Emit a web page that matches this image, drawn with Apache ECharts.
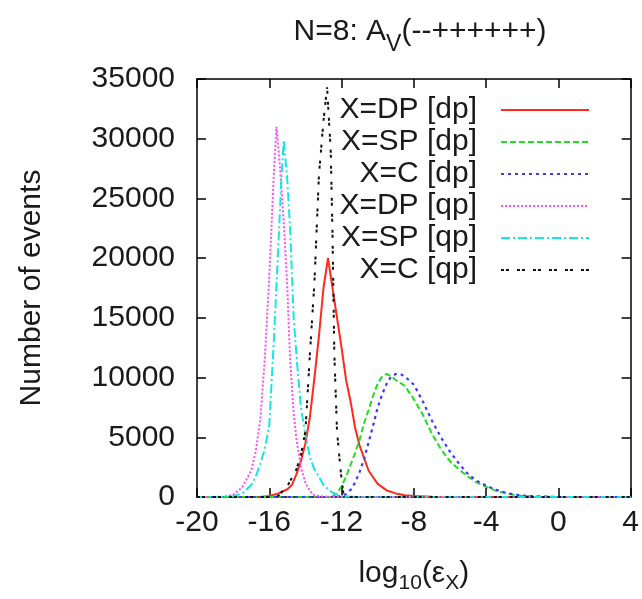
<!DOCTYPE html>
<html>
<head>
<meta charset="utf-8">
<script src="https://cdn.jsdelivr.net/npm/echarts@6/dist/echarts.min.js"></script>
<style>
html,body{margin:0;padding:0;background:#fff;}
#chart{width:642px;height:599px;}
</style>
</head>
<body>
<div id="chart"></div>
<script>
// ---- data ----
const xTicks = [-20, -16, -12, -8, -4, 0, 4];
const yTicks = [0, 5000, 10000, 15000, 20000, 25000, 30000, 35000];

const seriesNames = ['X=DP [dp]', 'X=SP [dp]', 'X=C [dp]', 'X=DP [qp]', 'X=SP [qp]', 'X=C [qp]'];

const dpDP_x = [-20, -16.5, -16, -15.5, -15, -14.75, -14.5, -14.25, -14, -13.75, -13.5, -13.25, -13, -12.75, -12.5, -12.25, -12, -11.75, -11.5, -11.25, -11, -10.5, -10, -9.5, -9, -8.5, -8, -7, -6, 4];
const dpDP_y = [0, 0, 80, 300, 650, 1000, 1900, 3000, 4500, 6700, 10000, 13500, 17500, 20000, 17500, 15000, 12500, 9800, 8000, 5800, 4300, 2200, 1100, 550, 300, 150, 80, 20, 0, 0];

const dpSP_x = [-20, -13, -12.5, -12.25, -12, -11.75, -11.5, -11.25, -11, -10.75, -10.5, -10.25, -10, -9.75, -9.5, -9.25, -9, -8.5, -8, -7.5, -7, -6.5, -6, -5.5, -5, -4.5, -4, -3.5, -3, -2.5, -2, -1, 0, 4];
const dpSP_y = [0, 0, 50, 300, 900, 1700, 2700, 3700, 4800, 6200, 7300, 8500, 9500, 10100, 10300, 10100, 9800, 9300, 8200, 6900, 5300, 4000, 3000, 2300, 1700, 1200, 850, 550, 350, 180, 90, 25, 0, 0];

const dpC_x = [-20, -12.5, -12, -11.75, -11.5, -11.25, -11, -10.75, -10.5, -10.25, -10, -9.75, -9.5, -9.25, -9, -8.75, -8.5, -8, -7.5, -7, -6.5, -6, -5.5, -5, -4.5, -4, -3.5, -3, -2.5, -2, -1, 0, 4];
const dpC_y = [0, 0, 80, 250, 600, 1200, 2100, 3200, 4600, 6000, 7500, 8600, 9500, 10100, 10300, 10300, 10100, 9400, 8000, 6400, 5000, 3800, 2800, 1900, 1350, 950, 620, 400, 220, 120, 40, 0, 0];

const qpDP_x = [-20, -19, -18.5, -18, -17.5, -17, -16.75, -16.5, -16.25, -16, -15.75, -15.6, -15.4, -15.2, -15, -14.85, -14.65, -14.5, -14.25, -14, -13.75, -13.5, -13, -12.5, 4];
const qpDP_y = [0, 0, 30, 200, 800, 2200, 3800, 6500, 11500, 18500, 27000, 31000, 27500, 23000, 17500, 11600, 7000, 4900, 2500, 1200, 500, 150, 20, 0, 0];

const qpSP_x = [-20, -18.5, -18, -17.5, -17, -16.75, -16.5, -16.25, -16, -15.75, -15.5, -15.35, -15.2, -15, -14.85, -14.65, -14.45, -14.25, -14, -13.75, -13.5, -13.25, -13, -12.5, -12, -11.5, -11, 4];
const qpSP_y = [0, 0, 80, 300, 1000, 1700, 2800, 4000, 6000, 13000, 21000, 26000, 29900, 26500, 22500, 15000, 11000, 7500, 5200, 3300, 2300, 1700, 1000, 350, 100, 30, 0, 0];

const qpC_x = [-20, -16, -15.5, -15, -14.75, -14.5, -14.25, -14, -13.75, -13.5, -13.25, -13, -12.8, -12.6, -12.5, -12.4, -12.25, -12.1, -12, -11.9, -11.75, -11.5, 4];
const qpC_y = [0, 0, 100, 900, 1600, 2300, 3500, 5500, 12000, 18000, 27000, 31500, 34300, 29000, 22000, 12000, 5500, 3000, 1500, 300, 30, 0, 0];

const xs = [dpDP_x, dpSP_x, dpC_x, qpDP_x, qpSP_x, qpC_x];
const ys = [dpDP_y, dpSP_y, dpC_y, qpDP_y, qpSP_y, qpC_y];

// ---- styles ----
const colors = ['#ff2a1a', '#22dd22', '#3a3aff', '#ff4cff', '#18e6e6', '#111111'];
const dashes = ['solid', [6, 3], [3, 4], [2, 2], [9, 3, 2, 3], [3, 2, 3, 8]];
const widths = [2, 2, 2.2, 2, 2, 2];

const FONT = '"Liberation Sans", Arial, Helvetica, sans-serif';
const TXT = '#1a1a1a';
const FS = 30;

const chart = echarts.init(document.getElementById('chart'), null, {renderer: 'canvas'});

const series = seriesNames.map((name, i) => ({
  name: name,
  type: 'line',
  data: xs[i].map((x, k) => [x, ys[i][k]]),
  showSymbol: false,
  symbol: 'none',
  smooth: false,
  animation: false,
  xAxisIndex: 0,
  yAxisIndex: 0,
  lineStyle: {color: colors[i], type: dashes[i], width: widths[i]},
  itemStyle: {color: colors[i]},
  z: 3 + i
}));

const axisLine = {show: true, onZero: false, lineStyle: {color: '#000', width: 1.5}};
const axisTick = {show: true, inside: true, length: 9, lineStyle: {color: '#000', width: 1.5}};

const option = {
  backgroundColor: '#fff',
  animation: false,
  title: {
    text: 'N=8: A{sub|V}(--++++++)',
    left: 415,
    top: 3,
    textAlign: 'center',
    textStyle: {
      fontFamily: FONT, fontSize: FS, fontWeight: 'normal', color: TXT, lineHeight: 48,
      rich: {
        sub: {fontFamily: FONT, fontSize: 23, color: TXT, verticalAlign: 'bottom', lineHeight: 23}
      }
    }
  },
  grid: {left: 197, right: 10, top: 79, bottom: 100, containLabel: false},
  legend: {
    orient: 'vertical',
    align: 'right',
    right: 47,
    top: 90,
    itemWidth: 88,
    itemHeight: 14,
    itemGap: 2,
    selectedMode: false,
    data: seriesNames,
    itemStyle: {opacity: 0},
    textStyle: {fontFamily: FONT, fontSize: FS, color: TXT, lineHeight: 30, padding: [0, 19, 0, 0]}
  },
  xAxis: [{
    type: 'value', min: -20, max: 4, interval: 4,
    position: 'bottom',
    axisLine: axisLine, axisTick: axisTick,
    splitLine: {show: false},
    axisLabel: {fontFamily: FONT, fontSize: FS, color: TXT, margin: 11,
      formatter: v => xTicks.includes(v) ? String(v) : ''},
    name: 'log{sub|10}(ε{sub|X})',
    nameLocation: 'middle',
    nameGap: 57,
    nameTextStyle: {
      fontFamily: FONT, fontSize: FS, color: TXT, lineHeight: 40,
      rich: {sub: {fontFamily: FONT, fontSize: 21, color: TXT, verticalAlign: 'bottom', lineHeight: 21}}
    }
  }, {
    type: 'value', min: -20, max: 4, interval: 4,
    position: 'top',
    axisLine: axisLine, axisTick: axisTick,
    splitLine: {show: false},
    axisLabel: {show: false}
  }],
  yAxis: [{
    type: 'value', min: 0, max: 35000, interval: 5000,
    position: 'left',
    axisLine: axisLine, axisTick: axisTick,
    splitLine: {show: false},
    axisLabel: {fontFamily: FONT, fontSize: FS, color: TXT, margin: 22,
      formatter: v => yTicks.includes(v) ? String(v) : ''},
    name: 'Number of events',
    nameLocation: 'middle',
    nameGap: 150,
    nameTextStyle: {fontFamily: FONT, fontSize: FS, color: TXT}
  }, {
    type: 'value', min: 0, max: 35000, interval: 5000,
    position: 'right',
    axisLine: axisLine, axisTick: axisTick,
    splitLine: {show: false},
    axisLabel: {show: false}
  }],
  series: series
};

chart.setOption(option);
</script>
</body>
</html>
